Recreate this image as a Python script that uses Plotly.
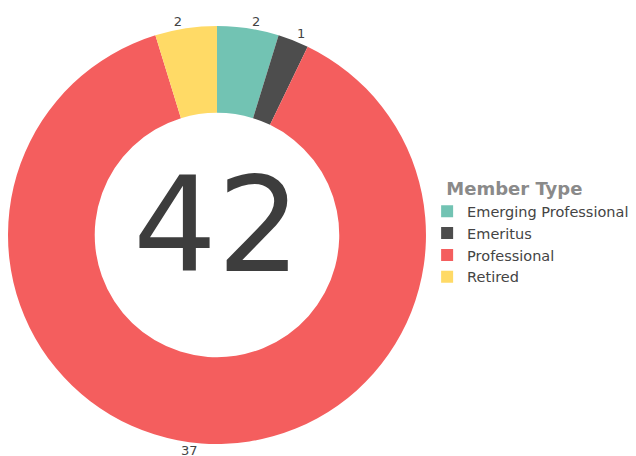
import plotly.graph_objects as go

labels = ["Emerging Professional", "Emeritus", "Professional", "Retired"]
values = [2, 1, 37, 2]
colors = ["#72C3B3", "#4D4D4D", "#F45E5E", "#FFDA66"]
legend_title = "Member Type"
total = sum(values)

# labels whose value text is drawn on a second (transparent) layer so that
# plotly does not push neighbouring outside labels apart
separate = ["Emerging Professional"]

FONT = "Verdana, DejaVu Sans, sans-serif"
domain = dict(x=[0.0, 0.6572], y=[0.0154, 0.989])

text_main = ["" if l in separate else str(v) for l, v in zip(labels, values)]
text_sep = [str(v) if l in separate else "" for l, v in zip(labels, values)]

common = dict(
    labels=labels, values=values, hole=0.585, sort=False,
    direction="clockwise", rotation=0, textposition="outside",
    textinfo="text", domain=domain,
    textfont=dict(size=13, color="#444444", family=FONT),
)

fig = go.Figure()
fig.add_trace(go.Pie(
    text=text_main,
    marker=dict(colors=colors, line=dict(width=0)),
    showlegend=True, **common,
))
fig.add_trace(go.Pie(
    text=text_sep,
    marker=dict(colors=["rgba(0,0,0,0)"] * len(labels), line=dict(width=0)),
    showlegend=False, hoverinfo="skip", **common,
))

fig.add_annotation(
    text=str(total), x=sum(domain["x"]) / 2, y=sum(domain["y"]) / 2,
    xref="paper", yref="paper", showarrow=False, yshift=10,
    font=dict(size=132, color="#3D3D3D", family=FONT),
    xanchor="center", yanchor="middle",
)

fig.update_layout(
    width=636, height=456,
    margin=dict(l=0, r=0, t=0, b=0, autoexpand=False),
    paper_bgcolor="white", plot_bgcolor="white",
    font=dict(family=FONT, color="#444444"),
    legend=dict(
        title=dict(text="&nbsp;&nbsp;&nbsp;<b>" + legend_title + "</b>",
                   font=dict(size=18, color="#8A8A8A")),
        font=dict(size=14.5, color="#444444"),
        bgcolor="rgba(0,0,0,0)",
        x=0.659, y=0.508, xanchor="left", yanchor="middle",
        itemwidth=30, tracegroupgap=0,
    ),
)

fig.write_html("out.html")
